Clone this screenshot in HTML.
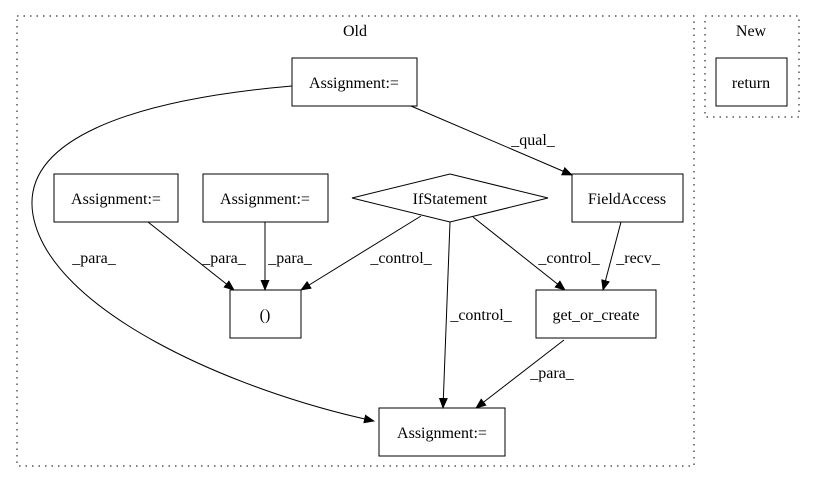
<!DOCTYPE html>
<html><head><style>body{margin:0;background:#fff}svg{display:block}text{font-family:"Liberation Serif","Times New Roman",Times,serif;font-size:16px;fill:#000}</style></head>
<body>
<svg width="815" height="480" viewBox="0 0 815 480" xmlns="http://www.w3.org/2000/svg">
<defs><marker id="a" markerWidth="11" markerHeight="9" refX="10" refY="4.5" orient="auto" markerUnits="userSpaceOnUse"><path d="M0,0 L11,4.5 L0,9 Z" fill="#000"/></marker></defs>
<g fill="none" stroke="#000" stroke-dasharray="1.5,5">
<rect x="17" y="16" width="677" height="450"/>
<rect x="705" y="16" width="94" height="101"/>
</g>
<text x="355" y="36" text-anchor="middle">Old</text>
<text x="751" y="36" text-anchor="middle">New</text>
<g fill="#fff" stroke="#000" stroke-width="1">
<rect x="292" y="58" width="125" height="48"/>
<rect x="716" y="58" width="71" height="48"/>
<rect x="54" y="174" width="124" height="48"/>
<rect x="203" y="174" width="125" height="48"/>
<polygon points="352,198 450,174 548,198 450,222"/>
<rect x="572" y="174" width="111" height="48"/>
<rect x="230" y="290" width="71" height="48"/>
<rect x="536" y="290" width="120" height="48"/>
<rect x="379" y="408" width="126" height="48"/>
</g>
<g text-anchor="middle">
<text x="354" y="88">Assignment:=</text>
<text x="751" y="88">return</text>
<text x="116" y="204">Assignment:=</text>
<text x="265" y="204">Assignment:=</text>
<text x="450" y="204">IfStatement</text>
<text x="627" y="204">FieldAccess</text>
<text x="265" y="320">()</text>
<text x="596" y="320">get_or_create</text>
<text x="442" y="438">Assignment:=</text>
</g>
<g fill="none" stroke="#000" marker-end="url(#a)">
<path d="M292,86 C130,100 20,140 33,215 C50,310 230,390 374,421"/>
<path d="M411,106 L572,175"/>
<path d="M148,222 L234,290"/>
<path d="M265,222 L265,290"/>
<path d="M421,216 L301,290"/>
<path d="M450,222 L443,408"/>
<path d="M473,217 L565,290"/>
<path d="M621,222 L603,290"/>
<path d="M564,340 L476,408"/>
</g>
<g text-anchor="middle">
<text x="94" y="263">_para_</text>
<text x="533" y="145">_qual_</text>
<text x="224" y="263">_para_</text>
<text x="290" y="263">_para_</text>
<text x="401" y="263">_control_</text>
<text x="481" y="320">_control_</text>
<text x="569" y="263">_control_</text>
<text x="638" y="263">_recv_</text>
<text x="552" y="378">_para_</text>
</g>
</svg>
</body></html>
